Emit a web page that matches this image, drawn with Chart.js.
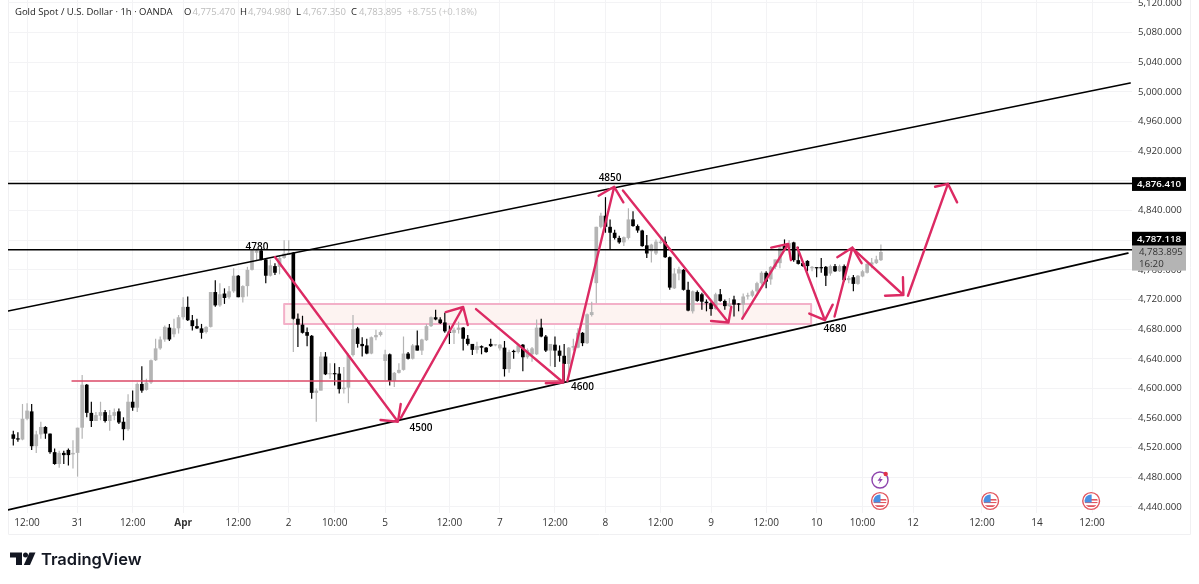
<!DOCTYPE html>
<html><head><meta charset="utf-8">
<style>html,body{margin:0;padding:0;background:#fff;overflow:hidden}canvas{display:block}</style>
<script src="https://cdn.jsdelivr.net/npm/chart.js@4"></script>
</head><body><canvas id="c" width="1199" height="584"></canvas>
<script>
const opens=[4538,4532,4531,4559,4569,4522,4538,4548,4539,4514,4498,4513,4517,4511,4513,4547,4605,4567,4556,4563,4568,4556,4563,4569,4555,4545,4582,4574,4606,4598,4608,4638,4654,4666,4682,4673,4681,4696,4710,4692,4684,4681,4676,4683,4730,4712,4728,4723,4731,4752,4723,4738,4760,4783,4786,4774,4752,4765,4764,4776,4780,4783,4694,4686,4676,4671,4594,4597,4643,4619,4620,4620,4599,4601,4645,4681,4660,4658,4647,4669,4672,4637,4646,4610,4621,4625,4647,4640,4658,4651,4665,4684,4696,4693,4689,4676,4675,4679,4682,4667,4660,4652,4657,4655,4660,4658,4654,4655,4626,4650,4649,4659,4642,4646,4646,4682,4670,4651,4659,4651,4644,4633,4655,4655,4675,4661,4699,4742,4818,4833,4818,4810,4803,4797,4803,4828,4819,4813,4793,4785,4782,4796,4798,4777,4735,4755,4760,4733,4704,4730,4727,4717,4715,4707,4727,4718,4711,4720,4714,4713,4724,4725,4731,4742,4756,4747,4764,4769,4792,4789,4797,4773,4769,4772,4762,4763,4763,4764,4755,4765,4758,4765,4746,4750,4741,4751,4756,4767,4769,4773];
const highs=[4543,4541,4579,4580,4579,4543,4555,4549,4539,4519,4516,4516,4519,4530,4547,4618,4606,4582,4568,4582,4571,4571,4573,4573,4561,4592,4597,4608,4630,4613,4639,4667,4670,4685,4687,4694,4699,4723,4724,4699,4694,4687,4684,4730,4746,4742,4735,4738,4762,4753,4739,4764,4787,4789,4787,4775,4774,4769,4778,4800,4800,4784,4701,4698,4682,4672,4600,4649,4649,4634,4634,4629,4629,4647,4699,4683,4669,4667,4670,4679,4678,4652,4647,4622,4634,4670,4649,4660,4678,4667,4687,4697,4706,4696,4702,4685,4682,4690,4683,4672,4660,4663,4658,4656,4667,4660,4660,4664,4652,4652,4660,4660,4654,4656,4693,4694,4672,4660,4670,4658,4660,4656,4667,4681,4676,4701,4717,4818,4837,4858,4828,4814,4806,4805,4843,4839,4821,4814,4807,4795,4801,4801,4805,4778,4762,4764,4761,4744,4732,4732,4729,4720,4717,4729,4734,4720,4722,4725,4715,4728,4729,4733,4744,4758,4758,4765,4774,4792,4801,4800,4798,4791,4771,4773,4765,4763,4776,4765,4767,4768,4767,4767,4752,4753,4753,4760,4769,4776,4779,4794];
const lows=[4523,4528,4530,4557,4517,4513,4532,4532,4512,4497,4493,4498,4496,4492,4481,4532,4561,4548,4556,4557,4554,4543,4557,4552,4530,4543,4570,4568,4594,4597,4606,4637,4652,4663,4664,4669,4674,4693,4691,4678,4680,4667,4674,4682,4710,4710,4714,4721,4729,4723,4716,4724,4759,4773,4773,4742,4751,4753,4754,4775,4780,4693,4656,4674,4657,4586,4555,4597,4618,4613,4604,4593,4593,4580,4643,4655,4643,4646,4646,4665,4670,4611,4604,4602,4620,4624,4639,4639,4651,4645,4664,4683,4692,4687,4675,4660,4660,4674,4651,4658,4645,4647,4646,4648,4656,4657,4651,4616,4621,4640,4647,4623,4640,4636,4645,4669,4649,4630,4629,4636,4609,4615,4651,4654,4657,4660,4697,4715,4816,4810,4787,4801,4795,4792,4801,4818,4810,4791,4776,4770,4780,4795,4776,4733,4734,4746,4732,4704,4701,4717,4706,4704,4698,4706,4717,4706,4710,4697,4704,4695,4720,4723,4729,4740,4735,4740,4761,4762,4787,4787,4771,4767,4764,4758,4758,4750,4756,4738,4752,4757,4757,4744,4742,4731,4740,4750,4755,4762,4768,4772];
const closes=[4532,4531,4559,4570,4522,4538,4548,4539,4514,4498,4513,4510,4510,4513,4547,4605,4567,4556,4564,4568,4556,4564,4568,4554,4545,4582,4574,4606,4597,4608,4638,4654,4666,4683,4666,4681,4696,4710,4692,4684,4681,4675,4683,4730,4712,4727,4722,4731,4752,4723,4738,4760,4786,4786,4774,4752,4766,4756,4776,4782,4783,4694,4686,4675,4671,4594,4597,4643,4619,4620,4619,4599,4601,4645,4680,4660,4657,4647,4669,4672,4676,4646,4610,4621,4625,4647,4640,4658,4651,4666,4684,4696,4693,4688,4677,4675,4679,4682,4667,4660,4652,4657,4655,4649,4657,4659,4659,4626,4649,4649,4658,4642,4652,4654,4682,4670,4651,4660,4651,4644,4633,4655,4657,4675,4661,4700,4703,4818,4833,4818,4810,4803,4797,4804,4828,4819,4813,4792,4782,4794,4798,4798,4777,4736,4755,4761,4733,4705,4731,4718,4717,4715,4707,4727,4718,4711,4714,4713,4713,4724,4725,4731,4742,4756,4744,4764,4774,4790,4788,4796,4773,4768,4765,4765,4764,4762,4762,4752,4765,4758,4765,4746,4749,4741,4752,4758,4768,4770,4774,4784];
const grayTailBar=61, grayTail=[4649,4694];

const yTickValues=[4440,4480,4520,4560,4600,4640,4680,4720,4760,4800,4840,4880,4920,4960,5000,5040,5080,5120];
const xTickBars=[3,14,26,37,49,60,70,81,95,106,118,129,141,152,164,175,185,196,211,223,235];
const xTickLabels=['12:00','31','12:00','Apr','12:00','2','10:00','5','12:00','7','12:00','8','12:00','9','12:00','10','10:00','12','12:00','14','12:00'];

const upperChannel=[[-1.155,4704.4],[243.3,5012]];
const lowerChannel=[[-1.155,4436],[242.8,4782.6]];
const upperLevel=4876.41, midLevel=4787.118, lastClose=4783.895;
const redLevel=[[12.8,4610],[119.8,4610]];
const zoneBars=[59,173.8], zonePrices=[4686.9,4713.8];

const arrows=[
 [[80.0,4557.4],[83.8,4555.1],[84.4,4579],[83.8,4555.1],[57.0,4777.3]],
 [[94.2,4703],[98.0,4709.8],[99.0,4685.5],[98.0,4709.8],[84.4,4560]],
 [[116.0,4607],[119.8,4608],[119.8,4632],[119.8,4608],[100.8,4707]],
 [[127.5,4860],[130.9,4872],[132.9,4851],[130.9,4872],[120.7,4610]],
 [[152.0,4691],[155.8,4689],[156.4,4710],[155.8,4689],[132.8,4867]],
 [[165.1,4790],[168.8,4795],[169.4,4773],[168.8,4795],[158.8,4694]],
 [[173.4,4701],[176.8,4692],[178.5,4713],[176.8,4692],[170.8,4790]],
 [[179.5,4777],[182.8,4790],[184.8,4769],[182.8,4790],[178.9,4697]],
 [[189.9,4725],[193.9,4726],[193.8,4750],[193.9,4726],[183.0,4788]],
 [[200.8,4872],[203.6,4876],[205.6,4851],[203.6,4876],[194.9,4725]]
];
const noteTexts=['4780','4850','4500','4600','4680'];
const noteBars=[53.1,130,88.8,124,179];
const notePrices=[4791,4883,4546,4602,4680];
const flagBars=[188.8,212.8,234.8];

const UP='#b4b4b4', DOWN='#000000', PINK='#dc2a63', FONT='"Open Sans","Noto Sans",sans-serif';
const pts=a=>a.map(p=>({x:p[0],y:p[1]}));
const colors=opens.map((o,i)=>closes[i]>=o?UP:DOWN);
const line=(data,color,w,order,extra)=>Object.assign({type:'line',data,borderColor:color,borderWidth:w,pointRadius:0,fill:false,tension:0,order,borderCapStyle:'round',borderJoinStyle:'round'},extra||{});

const datasets=[
 line(pts([[zoneBars[0],zonePrices[1]],[zoneBars[1],zonePrices[1]]]),'rgba(0,0,0,0)',0,30,{fill:'+1',backgroundColor:'#fdf3f1'}),
 line(pts([[zoneBars[0],zonePrices[0]],[zoneBars[1],zonePrices[0]]]),'rgba(0,0,0,0)',0,29),
 line(pts([[zoneBars[0],zonePrices[0]],[zoneBars[1],zonePrices[0]],[zoneBars[1],zonePrices[1]],[zoneBars[0],zonePrices[1]],[zoneBars[0],zonePrices[0]]]),'#f3b0c8',2,28),
 {type:'bar',data:[{x:grayTailBar,y:grayTail}],backgroundColor:UP,barPercentage:1,maxBarThickness:1.2,grouped:false,order:21},
 {type:'bar',data:opens.map((o,i)=>({x:i,y:[lows[i],highs[i]]})),backgroundColor:colors,barPercentage:1,maxBarThickness:1.2,grouped:false,order:20},
 {type:'bar',data:opens.map((o,i)=>({x:i,y:[Math.min(o,closes[i]),Math.max(o,closes[i])]})),backgroundColor:colors,barPercentage:1,maxBarThickness:3.7,minBarLength:1.2,grouped:false,order:19},
 line(pts(upperChannel),'#000',1.7,10),
 line(pts(lowerChannel),'#000',1.7,10),
 line(pts([[-1.155,upperLevel],[244,upperLevel]]),'#000',1.6,10),
 line(pts([[-1.155,midLevel],[244,midLevel]]),'#000',1.6,10),
 line(pts(redLevel),'#dc4a68',1.5,9)
];
arrows.forEach(a=>datasets.push(line(pts(a),PINK,2.4,5)));

function flag(ctx,x,y){
 ctx.save();
 ctx.beginPath();ctx.arc(x,y,8.4,0,Math.PI*2);ctx.fillStyle='#fff';ctx.fill();
 ctx.lineWidth=1.4;ctx.strokeStyle='#e2565f';ctx.stroke();
 ctx.beginPath();ctx.arc(x,y,6.6,0,Math.PI*2);ctx.clip();
 ctx.fillStyle='#fff';ctx.fillRect(x-8,y-8,16,16);
 ctx.fillStyle='#e2565f';ctx.fillRect(x-8,y-2,16,1.6);ctx.fillRect(x-8,y+4.2,16,1.8);
 ctx.fillStyle='#e2565f';ctx.fillRect(x-8,y+1,16,1.1);
 ctx.fillStyle='#4a90e2';ctx.fillRect(x-8,y-7,8.5,8.5);
 ctx.restore();
}
const overlay={id:'overlay',
 beforeDraw(c){
  const ctx=c.ctx;ctx.save();ctx.strokeStyle='#f0f0f2';ctx.lineWidth=1;
  ctx.beginPath();ctx.moveTo(8.5,0);ctx.lineTo(8.5,534.5);ctx.lineTo(1190.5,534.5);ctx.lineTo(1190.5,0);ctx.stroke();ctx.restore();
 },
 afterDraw(c){
  const ctx=c.ctx,X=c.scales.x,Y=c.scales.y;
  ctx.save();
  ctx.textBaseline='middle';
  ctx.textAlign='center';ctx.fillStyle='#000';ctx.font='600 10px '+FONT;
  noteTexts.forEach((t,i)=>ctx.fillText(t,X.getPixelForValue(noteBars[i]),Y.getPixelForValue(notePrices[i])));
  const tag=(cy,txt)=>{ctx.fillStyle='#000';ctx.fillRect(1132,cy-6.9,54,13.8);ctx.fillStyle='#fff';ctx.font='600 9.7px '+FONT;ctx.textAlign='center';ctx.fillText(txt,1159,cy+.3);};
  const ly=Y.getPixelForValue(lastClose);
  ctx.fillStyle='#b4b4b4';ctx.fillRect(1132,ly-6,54,24.5);
  ctx.fillStyle='#333';ctx.font='9.7px '+FONT;ctx.textAlign='left';ctx.fillText('4,783.895',1139,ly+.5);ctx.fillText('16:20',1139,ly+12);
  tag(Y.getPixelForValue(upperLevel)+.5,'4,876.410');tag(Y.getPixelForValue(midLevel)-11,'4,787.118');
  ctx.textAlign='left';ctx.font='9.5px '+FONT;
  const hd=[['Gold Spot / U.S. Dollar · 1h · OANDA',15,'#222'],['O',184,'#222'],['4,775.470',192.5,'#bcbcbc'],['H',240,'#222'],['4,794.980',248,'#bcbcbc'],['L',296,'#222'],['4,767.350',303,'#bcbcbc'],['C',351,'#222'],['4,783.895',359,'#bcbcbc'],['+8.755 (+0.18%)',407,'#c4c4c4']];
  hd.forEach(h=>{ctx.fillStyle=h[2];ctx.fillText(h[0],h[1],12);});
  flagBars.forEach(b=>flag(ctx,X.getPixelForValue(b),501));
  const lx=X.getPixelForValue(flagBars[0]),ev=480;
  ctx.beginPath();ctx.arc(lx,ev,8,0,Math.PI*2);ctx.strokeStyle='#8e44ad';ctx.lineWidth=1.4;ctx.stroke();
  ctx.beginPath();ctx.moveTo(lx+1.5,ev-4.5);ctx.lineTo(lx-2.5,ev+.8);ctx.lineTo(lx,ev+.8);ctx.lineTo(lx-1.5,ev+4.5);ctx.lineTo(lx+2.8,ev-1);ctx.lineTo(lx+.3,ev-1);ctx.closePath();ctx.fillStyle='#8e44ad';ctx.fill();
  ctx.beginPath();ctx.arc(lx+5.7,ev-6,2.2,0,Math.PI*2);ctx.fillStyle='#e0304a';ctx.fill();
  ctx.fillStyle='#131722';
  ctx.fillRect(10,552.5,12,5);ctx.fillRect(16,557,6,8);
  ctx.beginPath();ctx.arc(25.5,555,2.5,0,Math.PI*2);ctx.fill();
  ctx.beginPath();ctx.moveTo(29.5,552.5);ctx.lineTo(35.5,552.5);ctx.lineTo(30,565);ctx.lineTo(23.8,565);ctx.closePath();ctx.fill();
  ctx.textAlign='left';ctx.font='600 16.5px Inter,"Open Sans",sans-serif';
  ctx.fillText('TradingView',41,560);
  ctx.restore();
 }};

new Chart(document.getElementById('c'),{
 data:{datasets},
 plugins:[overlay],
 options:{responsive:false,animation:false,devicePixelRatio:1,
  layout:{padding:{left:8,top:0,right:0,bottom:0}},
  plugins:{legend:{display:false},tooltip:{enabled:false},title:{display:false}},
  scales:{
   x:{type:'linear',offset:false,min:-1.155,max:243.7,
    grid:{color:'#f3f3f5',offset:false,drawTicks:false},border:{display:false},
    afterBuildTicks(a){a.ticks=xTickBars.map(v=>({value:v}));},
    afterFit(a){a.height=71;a.paddingLeft=0;a.paddingRight=0;},
    ticks:{autoSkip:false,maxRotation:0,padding:4,color:'#333',
     callback:(v)=>xTickLabels[xTickBars.indexOf(v)],
     font:(ctx)=>({family:FONT,size:10,weight:ctx.tick&&xTickLabels[xTickBars.indexOf(ctx.tick.value)]==='Apr'?'700':'400'})}},
   y:{type:'linear',position:'right',min:4431.9,max:5124,
    grid:{color:'#f3f3f5',drawTicks:false},border:{display:false},
    afterBuildTicks(a){a.ticks=yTickValues.map(v=>({value:v}));},
    afterFit(a){a.width=67;a.paddingTop=0;a.paddingBottom=0;},
    ticks:{autoSkip:false,padding:6,color:'#333',font:{family:FONT,size:9.7},
     callback:(v)=>v.toLocaleString('en-US',{minimumFractionDigits:3,maximumFractionDigits:3})}}
  }}
});
</script></body></html>
